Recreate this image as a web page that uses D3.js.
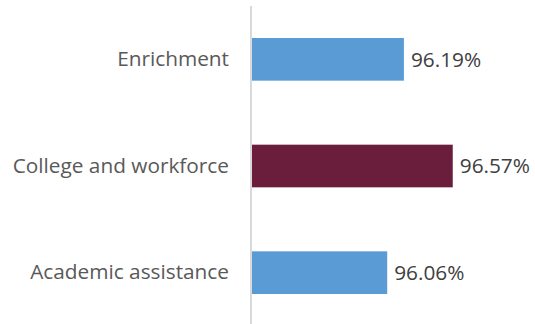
<!DOCTYPE html>
<html>
<head>
<meta charset="utf-8">
<script src="https://cdn.jsdelivr.net/npm/d3@7"></script>
<style>
  html, body { margin: 0; padding: 0; background: #fff; }
  svg { display: block; }
  text { font-family: "Open Sans", "Noto Sans", sans-serif; }
</style>
</head>
<body>
<svg id="chart" width="535" height="324"></svg>
<script>
// Program areas, top to bottom, with satisfaction rates (%)
const categories = ["Enrichment", "College and workforce", "Academic assistance"];
const values = [96.19, 96.57, 96.06];
const highlighted = ["College and workforce"];

const width = 535, height = 324;
const margin = { top: 6, right: 27, bottom: -2, left: 251 };
const fontSize = 20.8;

const svg = d3.select("#chart");

const x = d3.scaleLinear()
  .domain([95, 97])
  .range([margin.left, width - margin.right]);

const y = d3.scaleBand()
  .domain(categories)
  .range([margin.top, height - margin.bottom])
  .paddingInner(0.6)
  .paddingOuter(0.3);

const data = categories.map((c, i) => ({ category: c, value: values[i] }));

// Bars
svg.append("g")
  .selectAll("rect")
  .data(data)
  .join("rect")
  .attr("x", x(95))
  .attr("y", d => y(d.category))
  .attr("width", d => x(d.value) - x(95))
  .attr("height", y.bandwidth())
  .attr("fill", d => highlighted.includes(d.category) ? "#6B1D3C" : "#5B9BD5");

// Value labels
svg.append("g")
  .selectAll("text")
  .data(data)
  .join("text")
  .attr("x", d => x(d.value) + 7)
  .attr("y", d => y(d.category) + y.bandwidth() / 2)
  .attr("dy", "0.36em")
  .attr("font-size", fontSize)
  .attr("fill", "#404040")
  .text(d => d.value.toFixed(2) + "%");

// Category axis
const yAxis = svg.append("g")
  .attr("transform", `translate(${margin.left},0)`)
  .call(d3.axisLeft(y).tickSize(0).tickPadding(22));

yAxis.select(".domain")
  .attr("d", `M0,${margin.top}V${height + 2}`)
  .attr("stroke", "#d9d9d9")
  .attr("stroke-width", 2);

yAxis.selectAll(".tick text")
  .attr("font-size", fontSize)
  .attr("fill", "#595959")
  .attr("font-family", "'Open Sans', 'Noto Sans', sans-serif");
</script>
</body>
</html>
